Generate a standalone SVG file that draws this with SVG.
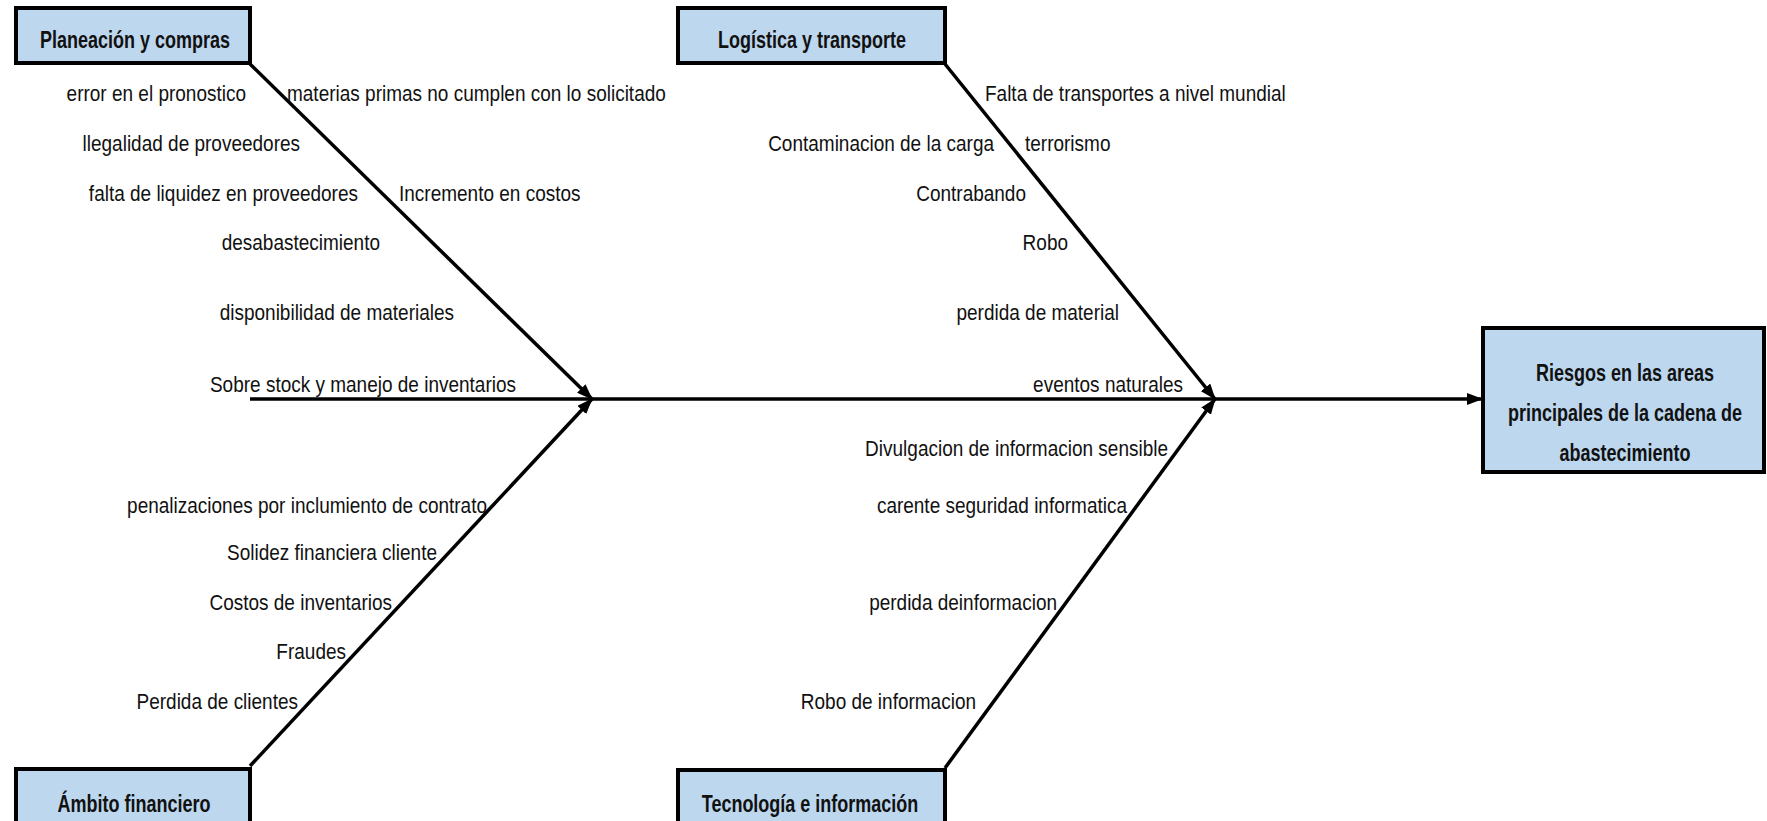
<svg xmlns="http://www.w3.org/2000/svg" width="1767" height="821" viewBox="0 0 1767 821">
<style>
.box{fill:#bdd7ee;stroke:#000;stroke-width:4}
.title{font-family:"Liberation Sans",Arial,sans-serif;font-weight:bold;font-size:18px;fill:#111;text-anchor:middle}
.lbl{font-family:"Liberation Sans",Arial,sans-serif;font-size:19px;fill:#111}
.e{text-anchor:end}
.ln{stroke:#000;stroke-width:3.5;fill:none}
</style>
<defs>
<marker id="ah" markerUnits="userSpaceOnUse" markerWidth="16" markerHeight="12" refX="15" refY="6" orient="auto">
<path d="M0,0 L16,6 L0,12 z" fill="#000"/>
</marker>
</defs>
<rect width="1767" height="821" fill="#fff"/>
<g id="connectors">
<line class="ln" x1="250" y1="64" x2="592" y2="399" marker-end="url(#ah)"/>
<line class="ln" x1="250" y1="766" x2="592" y2="399" marker-end="url(#ah)"/>
<line class="ln" x1="945" y1="64" x2="1215" y2="399" marker-end="url(#ah)"/>
<line class="ln" x1="945" y1="768" x2="1215" y2="399" marker-end="url(#ah)"/>
<line class="ln" x1="250" y1="399" x2="1482" y2="399" stroke-width="4" marker-end="url(#ah)"/>
</g>
<g id="planeacion">
<rect class="box" x="16" y="8" width="234" height="55"/>
<text class="title" transform="translate(135,48) scale(1,1.3)">Planeación y compras</text>
</g>
<g id="logistica">
<rect class="box" x="678" y="8" width="267" height="55"/>
<text class="title" transform="translate(812,48) scale(1,1.3)">Logística y transporte</text>
</g>
<g id="financiero">
<rect class="box" x="16" y="769" width="234" height="70"/>
<text class="title" transform="translate(134,812) scale(1,1.3)">Ámbito financiero</text>
</g>
<g id="tecnologia">
<rect class="box" x="678" y="770" width="267" height="70"/>
<text class="title" transform="translate(810,812) scale(1,1.3)">Tecnología e información</text>
</g>
<g id="resultado">
<rect class="box" x="1483" y="328" width="281" height="144"/>
<text class="title" transform="translate(1625,381) scale(1,1.3)">Riesgos en las areas</text>
<text class="title" transform="translate(1625,421) scale(1,1.3)">principales de la cadena de</text>
<text class="title" transform="translate(1625,461) scale(1,1.3)">abastecimiento</text>
</g>
<g id="labels-planeacion">
<text class="lbl e" transform="translate(246,101) scale(1,1.12)">error en el pronostico</text>
<text class="lbl" transform="translate(287,101) scale(1,1.12)">materias primas no cumplen con lo solicitado</text>
<text class="lbl e" transform="translate(300,151) scale(1,1.12)">llegalidad de proveedores</text>
<text class="lbl e" transform="translate(358,201) scale(1,1.12)">falta de liquidez en proveedores</text>
<text class="lbl" transform="translate(399,201) scale(1,1.12)">Incremento en costos</text>
<text class="lbl e" transform="translate(380,250) scale(1,1.12)">desabastecimiento</text>
<text class="lbl e" transform="translate(454,320) scale(1,1.12)">disponibilidad de materiales</text>
<text class="lbl e" transform="translate(516,392) scale(1,1.12)">Sobre stock y manejo de inventarios</text>
</g>
<g id="labels-financiero">
<text class="lbl e" transform="translate(487,513) scale(1,1.12)">penalizaciones por inclumiento de contrato</text>
<text class="lbl e" transform="translate(437,560) scale(1,1.12)">Solidez financiera cliente</text>
<text class="lbl e" transform="translate(392,610) scale(1,1.12)">Costos de inventarios</text>
<text class="lbl e" transform="translate(346,659) scale(1,1.12)">Fraudes</text>
<text class="lbl e" transform="translate(298,709) scale(1,1.12)">Perdida de clientes</text>
</g>
<g id="labels-logistica">
<text class="lbl" transform="translate(985,101) scale(1,1.12)">Falta de transportes a nivel mundial</text>
<text class="lbl e" transform="translate(994,151) scale(1,1.12)">Contaminacion de la carga</text>
<text class="lbl" transform="translate(1025,151) scale(1,1.12)">terrorismo</text>
<text class="lbl e" transform="translate(1026,201) scale(1,1.12)">Contrabando</text>
<text class="lbl e" transform="translate(1068,250) scale(1,1.12)">Robo</text>
<text class="lbl e" transform="translate(1119,320) scale(1,1.12)">perdida de material</text>
<text class="lbl e" transform="translate(1183,392) scale(1,1.12)">eventos naturales</text>
</g>
<g id="labels-tecnologia">
<text class="lbl e" transform="translate(1168,456) scale(1,1.12)">Divulgacion de informacion sensible</text>
<text class="lbl e" transform="translate(1127,513) scale(1,1.12)">carente seguridad informatica</text>
<text class="lbl e" transform="translate(1057,610) scale(1,1.12)">perdida deinformacion</text>
<text class="lbl e" transform="translate(976,709) scale(1,1.12)">Robo de informacion</text>
</g>
</svg>
